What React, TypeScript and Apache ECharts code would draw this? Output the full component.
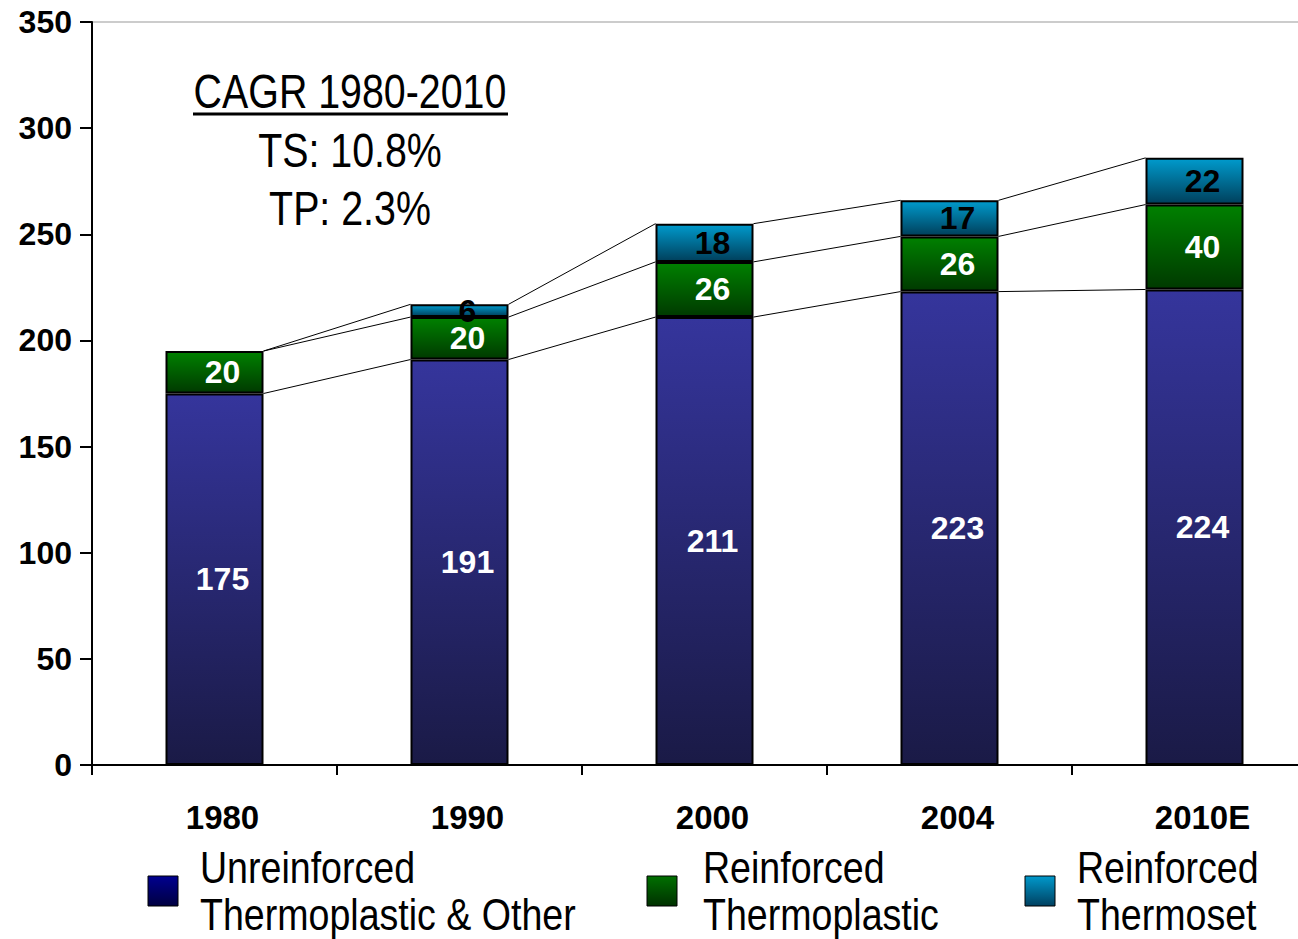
import React, { useEffect, useRef } from "react";
import * as echarts from "echarts";

const categories = ["1980", "1990", "2000", "2004", "2010E"];
const unreinforced = [175, 191, 211, 223, 224];
const reinforcedTP = [20, 20, 26, 26, 40];
const reinforcedTS: (number | null)[] = [null, 6, 18, 17, 22];
const seriesNames = [
  "Unreinforced\nThermoplastic & Other",
  "Reinforced\nThermoplastic",
  "Reinforced\nThermoset",
];
const yTicks = { min: 0, max: 350, interval: 50 };
const cagrLines = ["CAGR 1980-2010", "TS: 10.8%", "TP: 2.3%"];

const FONT = "'Liberation Sans', Arial, Helvetica, sans-serif";
const NARROW_SCALE = 0.82;
const LEGEND_SCALE = 0.835;

const grad = (top: string, bottom: string) =>
  new echarts.graphic.LinearGradient(0, 0, 0, 1, [
    { offset: 0, color: top },
    { offset: 1, color: bottom },
  ]);

export default function App() {
  const ref = useRef<HTMLDivElement>(null);
  useEffect(() => {
    if (!ref.current) return;
    const chart = echarts.init(ref.current, undefined, { renderer: "svg" });
    const stacks = [unreinforced, reinforcedTP, reinforcedTS];
    const cum = (i: number, level: number) => {
      let s = 0;
      for (let k = 0; k <= level; k++) s += (stacks[k][i] as number) || 0;
      return s;
    };
    const barLabel = (color: string) => ({
      show: true,
      position: "inside",
      color,
      fontSize: 32,
      fontWeight: "bold",
      fontFamily: FONT,
      offset: [8, 0],
      formatter: (p: any) => (p.value ? String(p.value) : ""),
    });
    const legendColors = [
      grad("#000090", "#000040"),
      grad("#007000", "#003000"),
      grad("#0099cc", "#004060"),
    ];
    const legendPos = [
      { box: 148, text: 200 },
      { box: 647, text: 703 },
      { box: 1025, text: 1077 },
    ];
    const legendGraphics = seriesNames.flatMap((name, i) => [
      {
        type: "rect",
        shape: { x: legendPos[i].box, y: 876, width: 30, height: 30 },
        style: { fill: legendColors[i], stroke: "#000", lineWidth: 1 },
      },
      {
        type: "text",
        x: legendPos[i].text,
        y: 844,
        scaleX: LEGEND_SCALE,
        style: {
          text: name,
          font: `45px ${FONT}`,
          lineHeight: 47,
          fill: "#000",
          textAlign: "left",
          textVerticalAlign: "top",
        },
      },
    ]);
    const cagrText = (text: string, y: number) => ({
      type: "text",
      x: 350,
      y,
      scaleX: NARROW_SCALE,
      style: {
        text,
        font: `48px ${FONT}`,
        fill: "#000",
        textAlign: "center",
        textVerticalAlign: "middle",
      },
    });
    chart.setOption({
      animation: false,
      backgroundColor: "#fff",
      grid: {
        left: 92,
        top: 22,
        right: 0,
        bottom: 174,
        show: true,
        borderColor: "#999",
        borderWidth: 1,
        backgroundColor: "transparent",
      },
      xAxis: {
        type: "category",
        data: categories,
        axisLine: { show: true, lineStyle: { color: "#000", width: 2 } },
        axisTick: { show: true, length: 10, lineStyle: { color: "#000", width: 2 } },
        axisLabel: {
          fontSize: 33,
          fontWeight: "bold",
          fontFamily: FONT,
          color: "#000",
          margin: 36,
          padding: [0, 0, 0, 16],
        },
      },
      yAxis: {
        type: "value",
        min: yTicks.min,
        max: yTicks.max,
        interval: yTicks.interval,
        axisLine: { show: true, lineStyle: { color: "#000", width: 2 } },
        axisTick: { show: true, length: 12, lineStyle: { color: "#000", width: 2 } },
        splitLine: { show: false },
        axisLabel: {
          fontSize: 32,
          fontWeight: "bold",
          fontFamily: FONT,
          color: "#000",
          margin: 20,
        },
      },
      graphic: [
        cagrText(cagrLines[0], 91),
        {
          type: "line",
          shape: { x1: 193, y1: 114, x2: 508, y2: 114 },
          style: { stroke: "#000", lineWidth: 3 },
        },
        cagrText(cagrLines[1], 150),
        cagrText(cagrLines[2], 208),
        ...legendGraphics,
      ],
      series: [
        {
          name: seriesNames[0],
          type: "bar",
          stack: "total",
          barWidth: "40%",
          data: unreinforced,
          itemStyle: { color: grad("#35359c", "#1a1a46"), borderColor: "#000", borderWidth: 2 },
          label: barLabel("#fff"),
          z: 3,
        },
        {
          name: seriesNames[1],
          type: "bar",
          stack: "total",
          barWidth: "40%",
          data: reinforcedTP,
          itemStyle: { color: grad("#008000", "#003a00"), borderColor: "#000", borderWidth: 2 },
          label: barLabel("#fff"),
          z: 3,
        },
        {
          name: seriesNames[2],
          type: "bar",
          stack: "total",
          barWidth: "40%",
          data: reinforcedTS,
          itemStyle: { color: grad("#009acc", "#00405c"), borderColor: "#000", borderWidth: 2 },
          label: barLabel("#000"),
          z: 3,
        },
        {
          type: "custom",
          silent: true,
          clip: false,
          z: 2,
          encode: { x: 0, y: 1 },
          data: categories.slice(0, -1).map((_, i) => [i, 0]),
          renderItem: (params: any, api: any) => {
            const i = api.value(0) as number;
            const bw = api.size([1, 0])[0] * 0.4;
            const children: any[] = [];
            for (let level = 0; level < 3; level++) {
              const p1 = api.coord([i, cum(i, level)]);
              const p2 = api.coord([i + 1, cum(i + 1, level)]);
              children.push({
                type: "line",
                shape: { x1: p1[0] + bw / 2, y1: p1[1], x2: p2[0] - bw / 2, y2: p2[1] },
                style: { stroke: "#000", lineWidth: 1 },
              });
            }
            return { type: "group", children };
          },
        },
      ],
    });
    return () => chart.dispose();
  }, []);
  return (
    <div
      ref={ref}
      style={{ position: "fixed", left: 0, top: 0, width: 1317, height: 939 }}
    />
  );
}
